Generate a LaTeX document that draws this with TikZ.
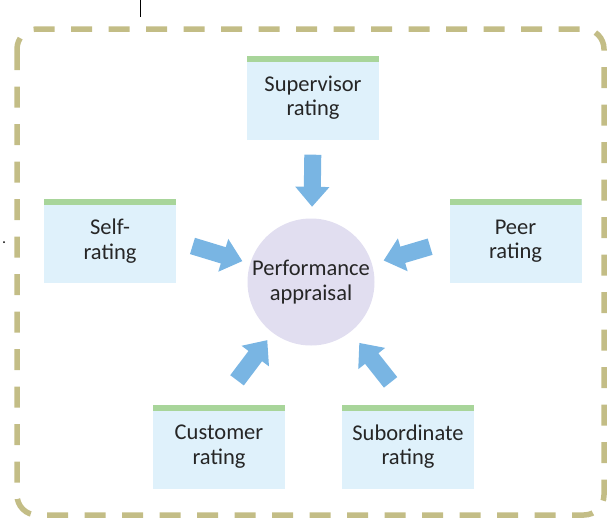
\documentclass[tikz,border=0pt]{standalone}
\usepackage{fontspec}
\setmainfont{Carlito}
\usepackage{tikz}
\usetikzlibrary{arrows.meta}

\definecolor{boxBlue}{HTML}{DFF1FB}
\definecolor{barGreen}{HTML}{A8D59A}
\definecolor{hubLav}{HTML}{E1DEF0}
\definecolor{arrBlue}{HTML}{79B5E3}
\definecolor{frameKhaki}{HTML}{C3BD86}
\definecolor{txtGray}{HTML}{262626}

\begin{document}
\begin{tikzpicture}[
    x=1pt, y=-1pt,
    rating/.style={
        rectangle, fill=boxBlue, inner sep=0pt,
        minimum width=132pt, minimum height=84pt,
        align=center, text=txtGray, font=\fontsize{22.5}{24.5}\selectfont,
        path picture={\fill[barGreen] (path picture bounding box.north west)
            rectangle ([yshift=-6pt]path picture bounding box.north east);}
    },
    hub/.style={
        circle, fill=hubLav, inner sep=0pt, minimum size=127pt,
        align=center, text=txtGray, font=\fontsize{22.5}{24.5}\selectfont
    },
    bigarr/.style={draw=arrBlue, line width=17pt, -{Triangle[length=20pt, width=33pt]}},
    dashframe/.style={draw=frameKhaki, line width=5.5pt, dash pattern=on 21pt off 16.5pt, rounded corners=20pt}
]
\useasboundingbox (0,0) rectangle (613,517);
\draw[dashframe] (17,29) rectangle (604,515);
\draw[line width=1pt] (140,0) -- (140,17);
\fill (4,242) circle (1pt);

\node[hub] (perf) at (311, 282) {Performance\\appraisal};
\node[rating] (sup) at (313, 97.5) {Supervisor\\rating};
\node[rating] (self) at (110, 241) {Self-\\rating};
\node[rating] (peer) at (515.5, 241) {Peer\\rating};
\node[rating] (cust) at (219, 446.5) {Customer\\rating};
\node[rating] (sub) at (408, 446.5) {Subordinate\\rating};

\draw[bigarr, shorten <=15pt, shorten >=11.5pt] (sup.south) -- (perf);
\draw[bigarr, shorten <=17pt, shorten >=8pt] (self.east) -- (perf);
\draw[bigarr, shorten <=20pt, shorten >=12pt] (peer.west) -- (perf);
\draw[bigarr, shorten <=30pt, shorten >=9pt] (cust.north) -- (perf);
\draw[bigarr, shorten <=28pt, shorten >=14pt] (sub.north) -- (perf);
\end{tikzpicture}
\end{document}
